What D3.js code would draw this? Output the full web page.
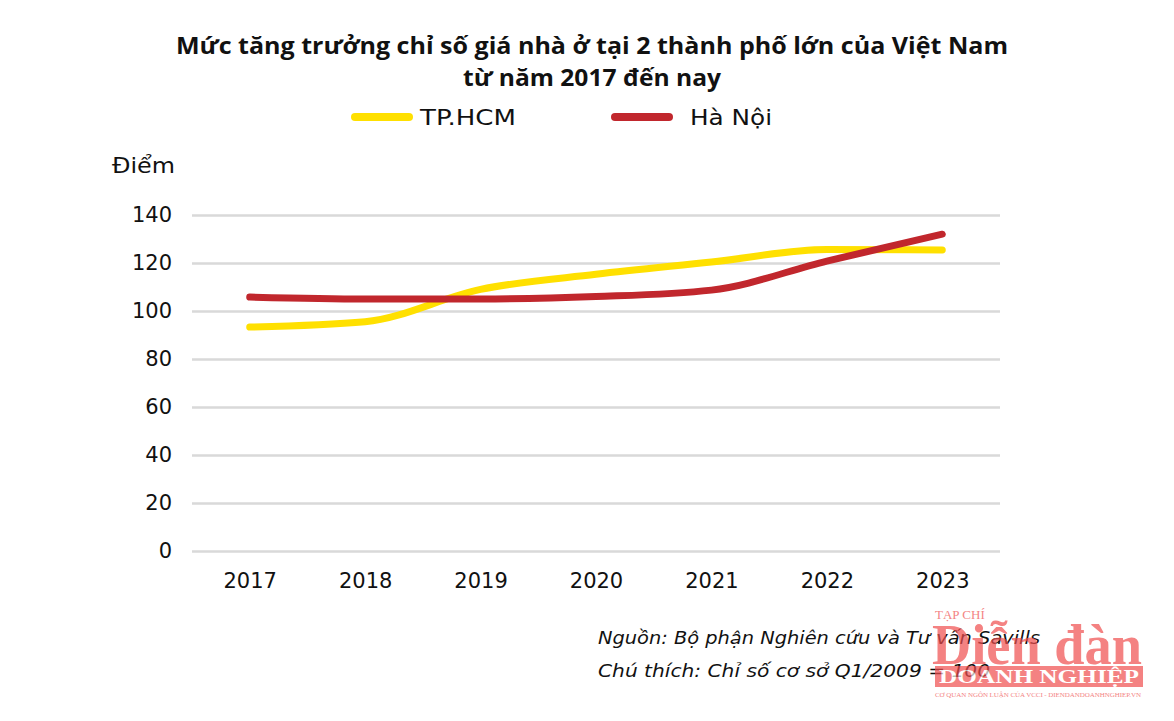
<!DOCTYPE html>
<html><head><meta charset="utf-8">
<script src="https://cdn.jsdelivr.net/npm/d3@7/dist/d3.min.js"></script>
<style>body{margin:0;background:#fff}svg{display:block}</style>
</head><body>
<svg id="c" width="1174" height="721"></svg>
<script>
const years = ["2017","2018","2019","2020","2021","2022","2023"];
const hcm = [93.3, 95.5, 109, 115.3, 120.4, 125.6, 125.4];
const hanoi = [105.8, 105, 105, 106, 108.7, 120.8, 132];
const yTicks = [0,20,40,60,80,100,120,140];
const seriesNames = ["TP.HCM","Hà Nội"];
const colors = ["#FFE000","#C1272D"];

const svg = d3.select("#c");
const font = "'DejaVu Sans', sans-serif";
const tfont = "'Open Sans', sans-serif";
const x = d3.scalePoint().domain(years).range([192,1000]).padding(0.5);
const y = d3.scaleLinear().domain([0,140]).range([551,215]);

// title
svg.append("text").attr("x",592).attr("y",54).attr("text-anchor","middle")
  .attr("font-family",tfont).attr("font-weight",700).attr("font-size",23).attr("fill","#111")
  .attr("textLength",832).attr("lengthAdjust","spacingAndGlyphs")
  .text("Mức tăng trưởng chỉ số giá nhà ở tại 2 thành phố lớn của Việt Nam");
svg.append("text").attr("x",592).attr("y",86).attr("text-anchor","middle")
  .attr("font-family",tfont).attr("font-weight",700).attr("font-size",23).attr("fill","#111")
  .attr("textLength",258).attr("lengthAdjust","spacingAndGlyphs")
  .text("từ năm 2017 đến nay");

// legend
const legX = [352, 612];
const legTX = [420, 690];
const legTL = [96, 82];
seriesNames.forEach((n,i)=>{
  svg.append("line").attr("x1",legX[i]+3).attr("x2",legX[i]+57).attr("y1",117).attr("y2",117)
    .attr("stroke",colors[i]).attr("stroke-width",8).attr("stroke-linecap","round");
  svg.append("text").attr("x",legTX[i]).attr("y",125).attr("font-family",font)
    .attr("font-size",22).attr("fill","#111")
    .attr("textLength",legTL[i]).attr("lengthAdjust","spacingAndGlyphs").text(n);
});

svg.append("text").attr("x",112).attr("y",173).attr("font-family",font).attr("font-size",22)
  .attr("fill","#111").attr("textLength",63).attr("lengthAdjust","spacingAndGlyphs").text("Điểm");

// grid + y axis
const ga = svg.append("g").attr("transform","translate(192,0)")
  .call(d3.axisLeft(y).tickValues(yTicks).tickSize(-808).tickPadding(20));
ga.select(".domain").remove();
ga.selectAll(".tick line").attr("stroke","#d9d9d9").attr("stroke-width",2.5);
ga.selectAll(".tick text").attr("font-family",font).attr("font-size",21).attr("fill","#111");

const xa = svg.append("g").attr("transform","translate(0,551)")
  .call(d3.axisBottom(x).tickSize(0).tickPadding(22));
xa.select(".domain").remove();
xa.selectAll(".tick text").attr("font-family",font).attr("font-size",21).attr("fill","#111");

const line = d3.line().x((d,i)=>x(years[i])).y(d=>y(d)).curve(d3.curveMonotoneX);
[hcm, hanoi].forEach((s,i)=>{
  svg.append("path").attr("d",line(s)).attr("fill","none").attr("stroke",colors[i])
    .attr("stroke-width",7).attr("stroke-linecap","round");
});

// footnotes
svg.append("text").attr("x",598).attr("y",644).attr("font-family",font).attr("font-style","italic")
  .attr("font-size",18).attr("fill","#111").attr("textLength",442).attr("lengthAdjust","spacingAndGlyphs")
  .text("Nguồn: Bộ phận Nghiên cứu và Tư vấn Savills");
svg.append("text").attr("x",598).attr("y",677).attr("font-family",font).attr("font-style","italic")
  .attr("font-size",18).attr("fill","#111").attr("textLength",392).attr("lengthAdjust","spacingAndGlyphs")
  .text("Chú thích: Chỉ số cơ sở Q1/2009 = 100");

// watermark logo
const lg = svg.append("g").attr("opacity",0.7);
lg.append("text").attr("x",935).attr("y",619).attr("font-family","'Liberation Serif', serif")
  .attr("font-size",13).attr("fill","#F04E4E").text("TẠP CHÍ");
lg.append("text").attr("x",932).attr("y",664).attr("font-family","'Liberation Serif', serif")
  .attr("font-weight",700).attr("font-size",56).attr("fill","#F04E4E").attr("textLength",210)
  .attr("lengthAdjust","spacingAndGlyphs").text("Diễn đàn");
lg.append("rect").attr("x",935).attr("y",666).attr("width",208).attr("height",21).attr("fill","#F04E4E");
lg.append("text").attr("x",939).attr("y",683).attr("font-family","'Liberation Serif', serif")
  .attr("font-weight",700).attr("font-size",18).attr("fill","#fff").attr("textLength",200)
  .attr("lengthAdjust","spacingAndGlyphs").text("DOANH NGHIỆP");
lg.append("text").attr("x",935).attr("y",697).attr("font-family","'Liberation Serif', serif")
  .attr("font-size",7).attr("fill","#F04E4E").attr("textLength",206).text("CƠ QUAN NGÔN LUẬN CỦA VCCI - DIENDANDOANHNGHIEP.VN");
</script>
</body></html>
